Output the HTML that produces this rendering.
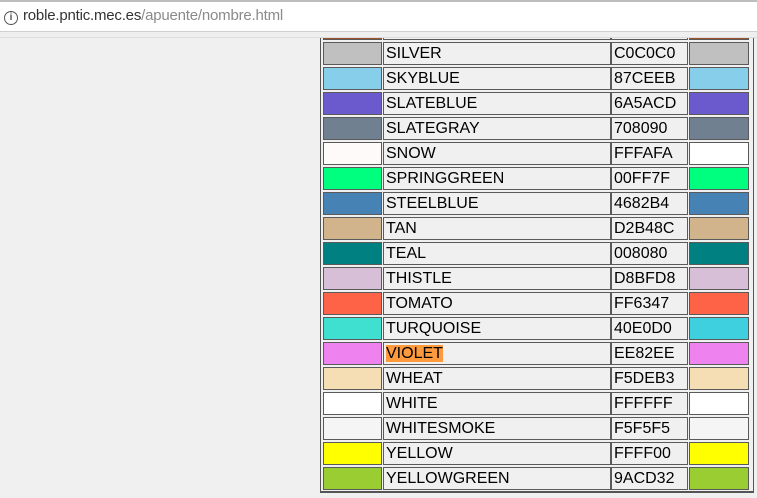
<!DOCTYPE html>
<html><head><meta charset="utf-8"><style>
body{margin:0;width:757px;height:498px;overflow:hidden;background:#f0f0f0;font-family:"Liberation Sans",sans-serif;position:relative}
#bar{position:absolute;left:0;top:0;width:757px;height:32px;background:#fff;border-top:2px solid #bdbdbd;border-bottom:1px solid #cfcfcf;box-sizing:border-box;z-index:5}
#cover{position:absolute;left:0;top:32px;width:757px;height:5px;background:#efefef;z-index:5}
#bar2{position:absolute;left:0;top:37px;width:757px;height:1px;background:#dcdcdc;z-index:5}
#url{position:absolute;left:23px;top:7px;font-size:15px;color:#333;z-index:6;letter-spacing:-0.2px}
#url span{color:#8a8a8a}
#info{position:absolute;left:4px;top:11px;width:12px;height:12px;border:1.5px solid #555;border-radius:50%;font-size:10px;line-height:12px;text-align:center;color:#555;font-weight:bold;z-index:6}
#tbl{position:absolute;left:320px;top:30px;width:432px;height:461px;border:1px solid #555;border-top:none;border-bottom:2px solid #555;box-sizing:content-box}
.c{position:absolute;height:21px;border:1px solid #5a5a5a;box-sizing:content-box;font-size:16px;line-height:22px;color:#000;white-space:nowrap}
.hl{background:#ff9a3c}
</style></head><body>
<div id="bar"></div>
<div id="cover"></div>
<div id="bar2"></div>
<div id="info">i</div>
<div id="url">roble.pntic.mec.es<span>/apuente/nombre.html</span></div>
<div id="tbl"></div>
<script>
const names=["SIENNA","SILVER","SKYBLUE","SLATEBLUE","SLATEGRAY","SNOW","SPRINGGREEN","STEELBLUE","TAN","TEAL","THISTLE","TOMATO","TURQUOISE","VIOLET","WHEAT","WHITE","WHITESMOKE","YELLOW","YELLOWGREEN"];
const hexes=["A0522D","C0C0C0","87CEEB","6A5ACD","708090","FFFAFA","00FF7F","4682B4","D2B48C","008080","D8BFD8","FF6347","40E0D0","EE82EE","F5DEB3","FFFFFF","F5F5F5","FFFF00","9ACD32"];
const rightHex=["A0522D","C0C0C0","87CEEB","6A5ACD","708090","FFFFFF","00FF7F","4682B4","D2B48C","008080","D8BFD8","FF6347","3FD0DF","EE82EE","F5DEB3","FFFFFF","F5F5F5","FFFF00","9ACD32"];
const b=document.body;
function cell(x,y,w,name){const d=document.createElement('div');d.className='c';d.style.left=x+'px';d.style.top=y+'px';d.style.width=w+'px';


b.appendChild(d);return d;}
names.forEach((n,i)=>{
 const y=17+i*25;
 const k=n.toLowerCase();
 const s1=cell(323,y,57,k+'-swatch');s1.style.background='#'+hexes[i];
 const t=cell(383,y,224,k+'-name');t.style.paddingLeft='2px';
 if(n==='VIOLET'){t.innerHTML='<span class="hl">VIOLET</span>';}else if(i>0) t.textContent=n;
 const h=cell(611,y,73,k+'-hex');h.style.paddingLeft='2px';if(i>0)h.textContent=hexes[i];
 const s2=cell(689,y,58,k+'-swatch-right');s2.style.background='#'+rightHex[i];
});
</script>
</body></html>
